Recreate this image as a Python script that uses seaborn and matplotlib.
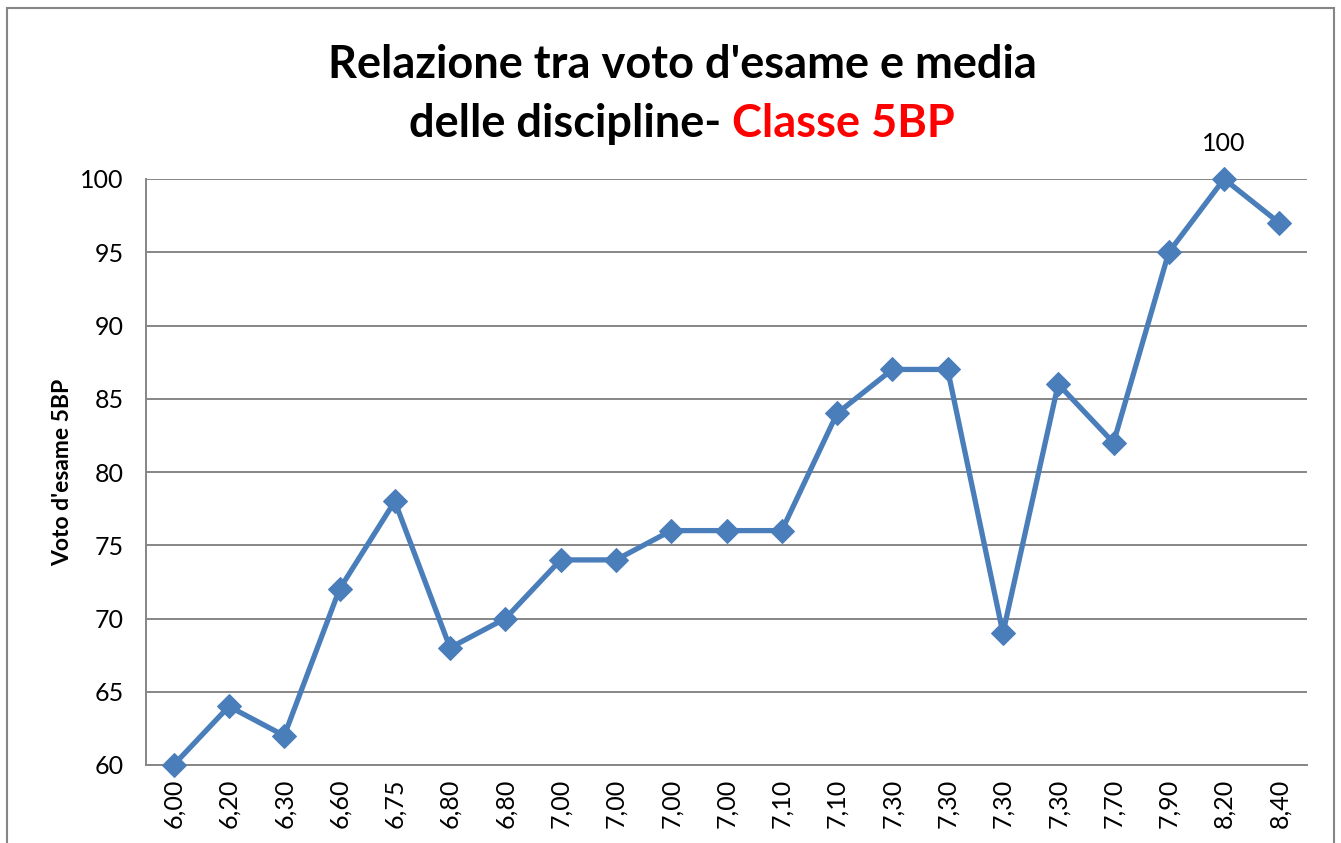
import numpy as np
import pandas as pd
import seaborn as sns
import matplotlib.pyplot as plt
from matplotlib.patches import Rectangle

# ---------------- Data ----------------
medie = ["6,00", "6,20", "6,30", "6,60", "6,75", "6,80", "6,80", "7,00", "7,00",
         "7,00", "7,00", "7,10", "7,10", "7,30", "7,30", "7,30", "7,30", "7,70",
         "7,90", "8,20", "8,40"]
voti = [60, 64, 62, 72, 78, 68, 70, 74, 74, 76, 76, 76, 84, 87, 87, 69, 86, 82,
        95, 100, 97]
y_ticks = [60, 65, 70, 75, 80, 85, 90, 95, 100]

df = pd.DataFrame({"pos": np.arange(len(medie)), "voto": voti})

# ---------------- Style ----------------
sns.set_style("white")
plt.rcParams["font.family"] = ["Lato", "DejaVu Sans"]
plt.rcParams["text.color"] = "black"
plt.rcParams["xtick.color"] = "black"
plt.rcParams["ytick.color"] = "black"
plt.rcParams["axes.labelcolor"] = "black"

line_col = "#4A7EBB"
grid_col = "#868686"

fig = plt.figure(figsize=(13.41, 8.43), dpi=100)
ax = fig.add_axes([146 / 1341, 1 - 765 / 843, (1307 - 146) / 1341, (765 - 179) / 843])

sns.lineplot(data=df, x="pos", y="voto", ax=ax, color=line_col, linewidth=3.8,
             marker="D", markersize=12, markeredgecolor=line_col, zorder=3,
             clip_on=False)

ax.set_xlim(-0.5, len(medie) - 0.5)
ax.set_ylim(60, 100)
ax.set_yticks(y_ticks)
ax.set_yticklabels([str(v) for v in y_ticks], fontsize=18)
ax.set_xticks(df["pos"])
ax.set_xticklabels(medie, rotation=90, fontsize=18)
ax.tick_params(axis="both", length=0)
ax.tick_params(axis="y", pad=16)
ax.tick_params(axis="x", pad=10)
ax.yaxis.grid(True, color=grid_col, linewidth=1.4)
ax.set_axisbelow(True)

for side in ["top", "right"]:
    ax.spines[side].set_visible(False)
for side in ["left", "bottom"]:
    ax.spines[side].set_color(grid_col)
    ax.spines[side].set_linewidth(1.4)

ax.set_xlabel("")
ax.set_ylabel("Voto d'esame 5BP", fontsize=16.5, fontweight="bold", labelpad=5)

# data label on the maximum
i_max = int(np.argmax(voti))
ax.annotate(str(voti[i_max]), (i_max, voti[i_max]), xytext=(0, 17),
            textcoords="offset points", ha="center", va="bottom", fontsize=18)

# ---------------- Title ----------------
fig.text(682 / 1341, 1 - 65 / 843, "Relazione tra voto d'esame e media",
         ha="center", va="center", fontsize=32.5, fontweight="bold")

renderer = fig.canvas.get_renderer()
t1 = fig.text(0, 1 - 124 / 843, "delle discipline- ", ha="left", va="center",
              fontsize=32.5, fontweight="bold", color="black")
t2 = fig.text(0, 1 - 124 / 843, "Classe 5BP", ha="left", va="center",
              fontsize=32.5, fontweight="bold", color="#FF0000")
w1 = t1.get_window_extent(renderer).width / fig.bbox.width
w2 = t2.get_window_extent(renderer).width / fig.bbox.width
x0 = 682 / 1341 - (w1 + w2) / 2
t1.set_x(x0)
t2.set_x(x0 + w1)

# chart border
fig.patches.append(Rectangle((7 / 1341, -0.05), (1334 - 7) / 1341, 1 - 8 / 843 + 0.05,
                             transform=fig.transFigure, fill=False,
                             edgecolor=grid_col, linewidth=1.5))

fig.savefig("out.png", dpi=100)
